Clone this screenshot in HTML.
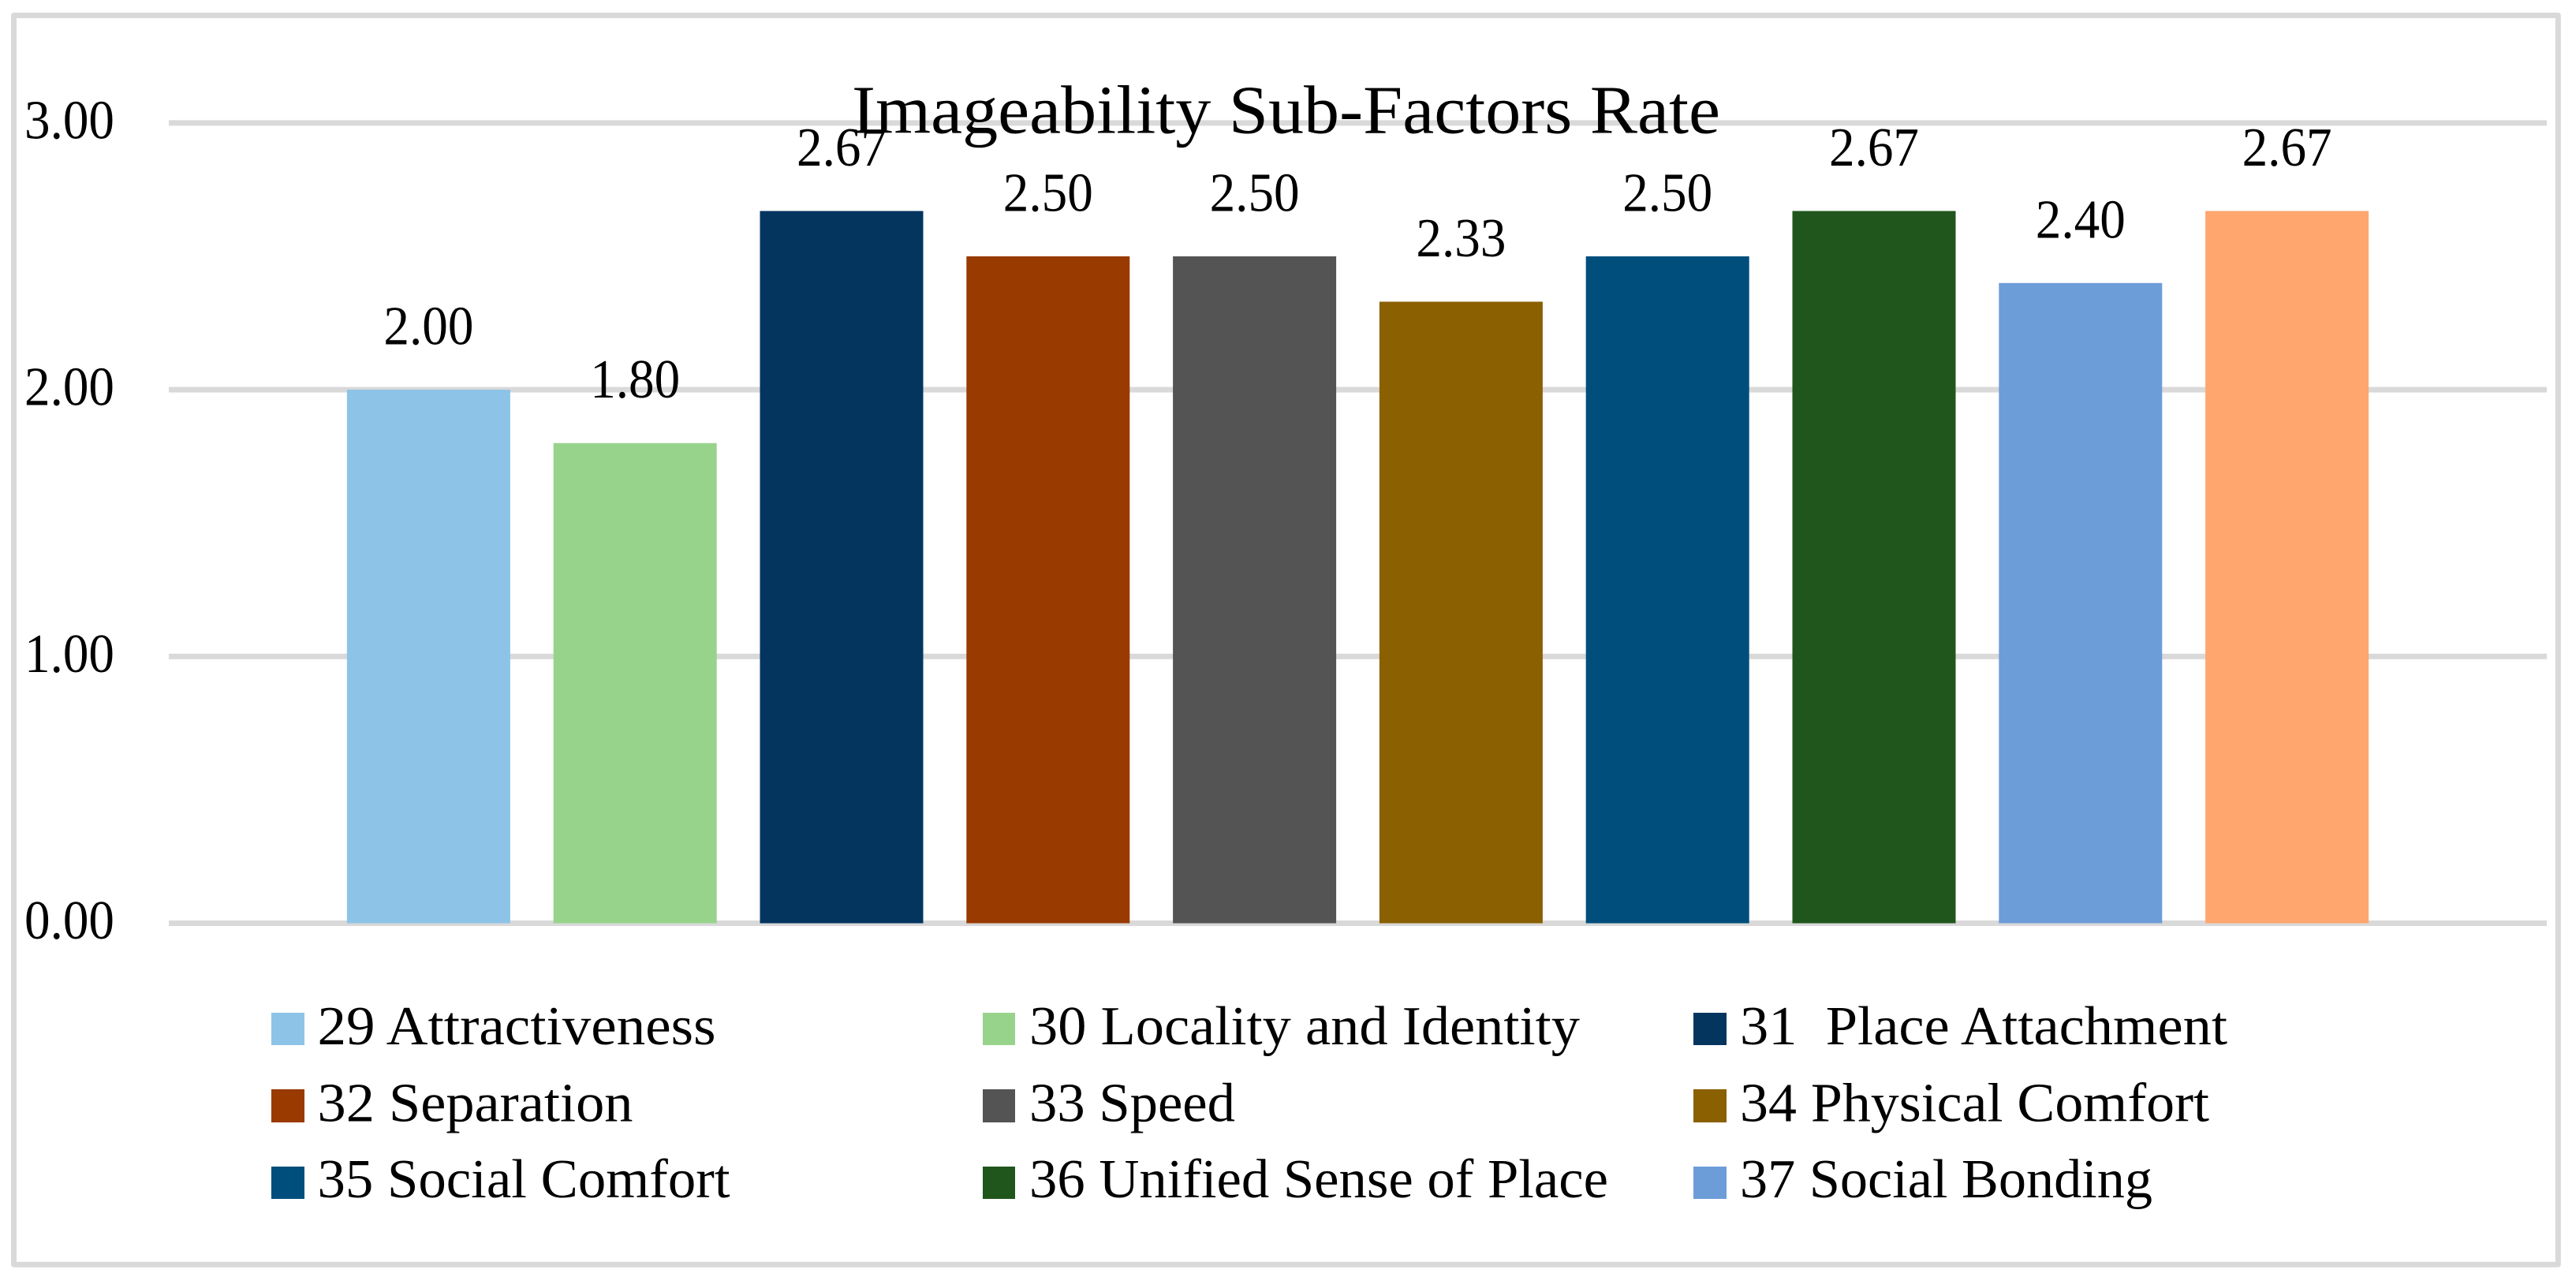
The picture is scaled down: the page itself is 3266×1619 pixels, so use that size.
<!DOCTYPE html>
<html lang="en">
<head>
<meta charset="utf-8">
<title>Imageability Sub-Factors Rate</title>
<style>
html,body{margin:0;padding:0;background:#fff;width:3266px;height:1619px;overflow:hidden}
svg{display:block}
text{font-family:"Liberation Serif",serif;fill:#000;white-space:pre}
.lg{font-size:70px}
</style>
</head>
<body>
<svg id="chart" xmlns="http://www.w3.org/2000/svg" width="3266" height="1619" viewBox="0 0 3266 1619">
  <rect x="0" y="0" width="3266" height="1619" fill="#fff"/>
  <rect x="17.5" y="19.5" width="3225.8" height="1583.7" fill="#fff" stroke="#d9d9d9" stroke-width="7" stroke-linejoin="round"/>
  <g id="grid"></g>
  <g id="ticks"></g>
  <g id="bars"></g>
  <g id="labels"></g>
  <text x="1080" y="168.5" font-size="87" textLength="1101" lengthAdjust="spacingAndGlyphs">Imageability Sub-Factors Rate</text>
  <g>
    <g><rect x="344" y="1284" width="42" height="41" fill="#8dc3e7"/><text class="lg" x="402.5" y="1324" textLength="505" lengthAdjust="spacingAndGlyphs">29 Attractiveness</text></g>
    <g><rect x="1246" y="1284" width="41" height="41" fill="#98d38c"/><text class="lg" x="1305" y="1324" textLength="698" lengthAdjust="spacingAndGlyphs">30 Locality and Identity</text></g>
    <g><rect x="2147" y="1284" width="42" height="41" fill="#03355f"/><text class="lg" x="2206" y="1324" textLength="618" lengthAdjust="spacingAndGlyphs">31  Place Attachment</text></g>
    <g><rect x="344" y="1381" width="42" height="42" fill="#993a00"/><text class="lg" x="402.5" y="1421.5" textLength="400" lengthAdjust="spacingAndGlyphs">32 Separation</text></g>
    <g><rect x="1246" y="1381" width="41" height="42" fill="#545454"/><text class="lg" x="1305" y="1421.5" textLength="261" lengthAdjust="spacingAndGlyphs">33 Speed</text></g>
    <g><rect x="2147" y="1381" width="42" height="42" fill="#8a6000"/><text class="lg" x="2206" y="1421.5" textLength="595" lengthAdjust="spacingAndGlyphs">34 Physical Comfort</text></g>
    <g><rect x="344" y="1479" width="42" height="41" fill="#004e7c"/><text class="lg" x="402.5" y="1518" textLength="523" lengthAdjust="spacingAndGlyphs">35 Social Comfort</text></g>
    <g><rect x="1246" y="1479" width="41" height="41" fill="#20561b"/><text class="lg" x="1305" y="1518" textLength="734" lengthAdjust="spacingAndGlyphs">36 Unified Sense of Place</text></g>
    <g><rect x="2147" y="1479" width="42" height="41" fill="#6d9dd8"/><text class="lg" x="2206" y="1518" textLength="523" lengthAdjust="spacingAndGlyphs">37 Social Bonding</text></g>
  </g>
</svg>
<script>
const categories = ["29 Attractiveness","30 Locality and Identity","31 Place Attachment","32 Separation","33 Speed","34 Physical Comfort","35 Social Comfort","36 Unified Sense of Place","37 Social Bonding","Unlabelled bar"];
const seriesValues = [2.00,1.80,2.67,2.50,2.50,2.33,2.50,2.67,2.40,2.67];
const barColors = ["#8dc3e7","#98d38c","#03355f","#993a00","#545454","#8a6000","#004e7c","#20561b","#6d9dd8","#ffa66e"];
const tickValues = [0,1,2,3];

const NS = "http://www.w3.org/2000/svg";
function yAxis(v){ return 1170.5 - v * 338.2; }
function xAxis(i){ return 1721.5 + (i - (categories.length - 1) / 2) * 261.8; }
const BAR_W = 207;

const gridG = document.getElementById("grid");
const tickG = document.getElementById("ticks");
tickValues.forEach(function(t){
  const line = document.createElementNS(NS, "line");
  
  
  line.setAttribute("x1", 214);
  line.setAttribute("x2", 3229);
  line.setAttribute("y1", yAxis(t));
  line.setAttribute("y2", yAxis(t));
  line.setAttribute("stroke", "#d9d9d9");
  line.setAttribute("stroke-width", 7);
  gridG.appendChild(line);

  const label = document.createElementNS(NS, "text");
  
  
  label.setAttribute("x", 31);
  label.setAttribute("y", yAxis(t) + 19.5);
  label.setAttribute("font-size", 70);
  label.setAttribute("textLength", 114);
  label.setAttribute("lengthAdjust", "spacingAndGlyphs");
  label.textContent = t.toFixed(2);
  tickG.appendChild(label);
});

const barG = document.getElementById("bars");
const labG = document.getElementById("labels");
seriesValues.forEach(function(v, i){
  const bar = document.createElementNS(NS, "rect");
  
  
  bar.setAttribute("x", xAxis(i) - BAR_W / 2);
  bar.setAttribute("y", yAxis(v));
  bar.setAttribute("width", BAR_W);
  bar.setAttribute("height", yAxis(0) - yAxis(v));
  bar.setAttribute("fill", barColors[i]);
  barG.appendChild(bar);

  const val = document.createElementNS(NS, "text");
  
  
  val.setAttribute("x", xAxis(i));
  val.setAttribute("y", yAxis(v) - 57.5);
  val.setAttribute("font-size", 70);
  val.setAttribute("text-anchor", "middle");
  val.setAttribute("textLength", 114);
  val.setAttribute("lengthAdjust", "spacingAndGlyphs");
  val.textContent = v.toFixed(2);
  labG.appendChild(val);
});
</script>
</body>
</html>
